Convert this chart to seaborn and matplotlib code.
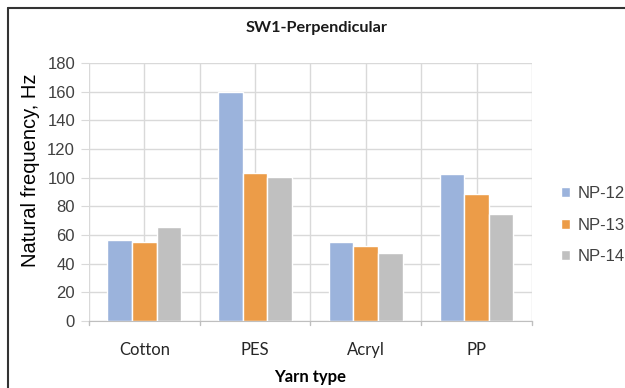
import matplotlib
matplotlib.use("Agg")
import matplotlib.pyplot as plt
import seaborn as sns
import pandas as pd
from matplotlib.lines import Line2D

categories = ["Cotton", "PES", "Acryl", "PP"]
series_names = ["NP-12", "NP-13", "NP-14"]
np12 = [56.5, 160, 55.1, 102.3]
np13 = [55.1, 103, 52.6, 88.4]
np14 = [65.6, 100.2, 47.7, 74.7]
yticks = [0, 20, 40, 60, 80, 100, 120, 140, 160, 180]

rows = []
for name, vals in zip(series_names, [np12, np13, np14]):
    for c, v in zip(categories, vals):
        rows.append({"Yarn type": c, "series": name, "value": v})
df = pd.DataFrame(rows)

sns.set_style("white")
plt.rcParams["font.family"] = ["Liberation Sans", "DejaVu Sans"]

fig = plt.figure(figsize=(6.25, 3.88), dpi=100)
ax = fig.add_axes([0.1424, 0.1727, 0.851 - 0.1424, 0.8376 - 0.1727])

palette = ["#9BB3DC", "#EC9C48", "#C0C0C0"]
sns.barplot(data=df, x="Yarn type", y="value", hue="series", palette=palette,
            width=0.667, saturation=1, ax=ax, zorder=3, legend=True)

ax.set_ylim(0, 180)
ax.set_xlim(-0.5, 3.5)
ax.set_yticks(yticks)
ax.set_yticklabels([str(t) for t in yticks], fontsize=12, color="#404040")

grid_c = "#D9D9D9"
for y in yticks:
    ax.axhline(y, color=grid_c, lw=1, zorder=1)
for x in [-0.5, 0, 0.5, 1, 1.5, 2, 2.5, 3, 3.5]:
    ax.axvline(x, color=grid_c, lw=1, zorder=1)

for s in ax.spines.values():
    s.set_visible(False)
ax.spines["bottom"].set_visible(True)
ax.spines["bottom"].set_color("#BFBFBF")
ax.spines["bottom"].set_zorder(4)

ax.set_xticks([0, 1, 2, 3])
ax.set_xticklabels(categories, fontsize=12, color="#262626", family=["Lato", "DejaVu Sans"])
ax.tick_params(axis="x", length=0, pad=15)
ax.tick_params(axis="y", length=6, color=grid_c, pad=4, left=True)
for xb in [-0.5, 0.5, 1.5, 2.5, 3.5]:
    ax.plot([xb, xb], [0, -3.0], color="#BFBFBF", lw=1, clip_on=False, zorder=4)

ax.set_xlabel("Yarn type", fontsize=12, fontweight="bold", family=["Lato", "DejaVu Sans"],
              color="#000000", labelpad=8)
ax.set_ylabel("Natural frequency, Hz", fontsize=14.5, color="#000000")
ax.yaxis.set_label_coords(-0.111, 0.585)

fig.text(0.507, 0.928, "SW1-Perpendicular", ha="center", va="center",
         fontsize=11.7, fontweight="bold", family=["Lato", "DejaVu Sans"], color="#1a1a1a")

leg = ax.legend(loc="center left", bbox_to_anchor=(0.8976, 0.42), bbox_transform=fig.transFigure,
                frameon=False, fontsize=12, handlelength=0.55, handleheight=0.55,
                labelspacing=1.0, handletextpad=0.45, borderpad=0, borderaxespad=0)
for t in leg.get_texts():
    t.set_color("#404040")

fig.add_artist(Line2D([0.0128, 1.0], [1 - 7.5 / 388, 1 - 7.5 / 388], transform=fig.transFigure,
                      color="#333333", lw=1.5))
fig.add_artist(Line2D([0.0128, 0.0128], [0, 1 - 7.5 / 388], transform=fig.transFigure,
                      color="#333333", lw=1.5))

fig.savefig("out.png", dpi=100)
